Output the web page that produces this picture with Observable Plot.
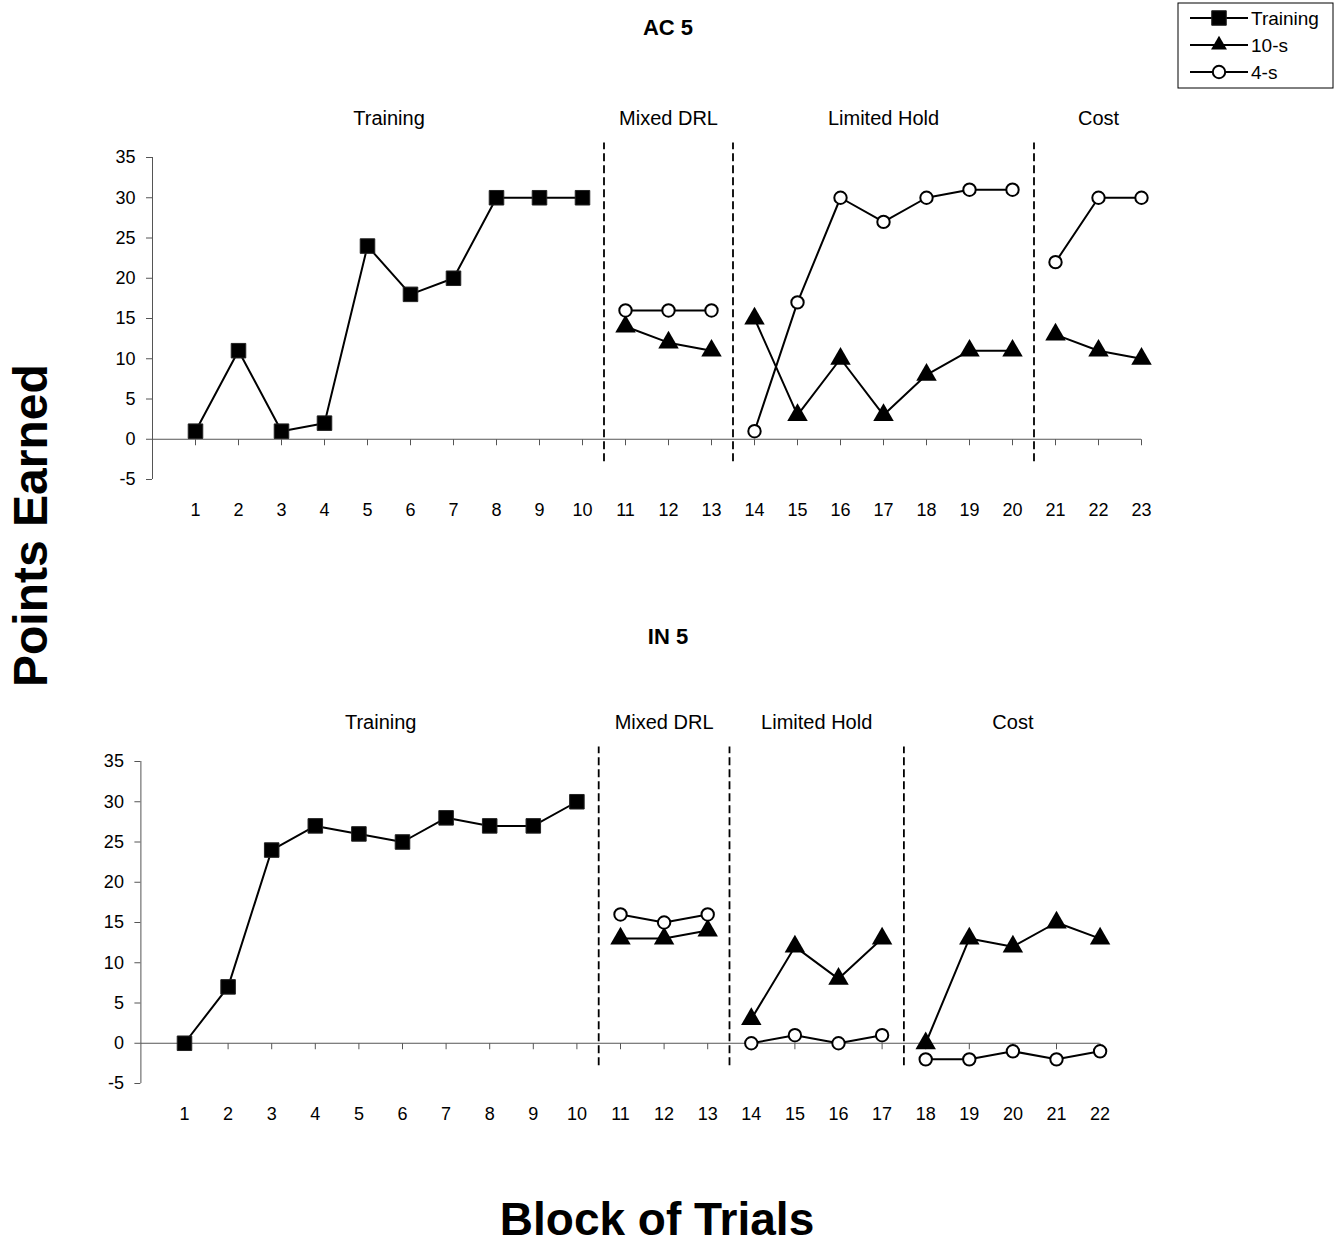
<!DOCTYPE html>
<html>
<head>
<meta charset="utf-8">
<script src="https://cdn.jsdelivr.net/npm/d3@7"></script>
<script src="https://cdn.jsdelivr.net/npm/@observablehq/plot@0.6"></script>
<style>
  body { margin: 0; background: #fff; font-family: "Liberation Sans", Arial, sans-serif; }
  #page { position: relative; width: 1343px; height: 1260px; background: #fff; }
  #page > svg { position: absolute; }
</style>
</head>
<body>
<div id="page"></div>
<script>
// ---- Data ---------------------------------------------------------------
const seriesNames = ["Training", "10-s", "4-s"];
const phaseNames = ["Training", "Mixed DRL", "Limited Hold", "Cost"];

// AC 5: last block of each phase
const acPhaseEnds = [10, 13, 20, 23];
const acTrainingBlocks = [1, 2, 3, 4, 5, 6, 7, 8, 9, 10];
const acTraining = [1, 11, 1, 2, 24, 18, 20, 30, 30, 30];
const acTestBlocks = [11, 12, 13, 14, 15, 16, 17, 18, 19, 20, 21, 22, 23];
const ac10s = [14, 12, 11, 15, 3, 10, 3, 8, 11, 11, 13, 11, 10];
const ac4s = [16, 16, 16, 1, 17, 30, 27, 30, 31, 31, 22, 30, 30];

// IN 5
const inPhaseEnds = [10, 13, 17, 22];
const inTrainingBlocks = [1, 2, 3, 4, 5, 6, 7, 8, 9, 10];
const inTraining = [0, 7, 24, 27, 26, 25, 28, 27, 27, 30];
const inTestBlocks = [11, 12, 13, 14, 15, 16, 17, 18, 19, 20, 21, 22];
const in10s = [13, 13, 14, 3, 12, 8, 13, 0, 13, 12, 15, 13];
const in4s = [16, 15, 16, 0, 1, 0, 1, -2, -2, -1, -2, -1];

const yTicks = [-5, 0, 5, 10, 15, 20, 25, 30, 35];

// ---- Helpers ------------------------------------------------------------
const FONT = "'Liberation Sans', Arial, sans-serif";
const R_SQUARE = 8.2, R_TRIANGLE = 7.6, R_CIRCLE = 6.2;

function phaseOf(block, ends) {
  return ends.findIndex(e => block <= e);
}

function rowsFor(series, blocks, values, ends) {
  return blocks.map((b, i) => ({ series, block: b, value: values[i], phase: phaseOf(b, ends) }));
}

// small downward tick drawn at each block on the zero line
const tickDown = { draw(ctx) { ctx.moveTo(0, 0); ctx.lineTo(0, 6); } };

function panel({ trainingBlocks, training, testBlocks, s10, s4, ends, marginLeft, marginRight }) {
  const nBlocks = ends[ends.length - 1];
  const blocks = d3.range(1, nBlocks + 1);
  const rowsTrain = rowsFor(seriesNames[0], trainingBlocks, training, ends);
  const rows10 = rowsFor(seriesNames[1], testBlocks, s10, ends);
  const rows4 = rowsFor(seriesNames[2], testBlocks, s4, ends);
  const all = [...rowsTrain, ...rows10, ...rows4];
  const boundaries = ends.slice(0, -1).map(e => e + 0.5);
  const starts = [1, ...ends.slice(0, -1).map(e => e + 1)];
  const phases = phaseNames.map((name, i) => ({ name, mid: (starts[i] + ends[i]) / 2 }));

  return Plot.plot({
    width: 1343,
    height: 440,
    marginTop: 57,
    marginBottom: 61,
    marginLeft,
    marginRight,
    x: { domain: [0, nBlocks], axis: null },
    y: { domain: [-5, 35], axis: null },
    style: { fontFamily: FONT, fontSize: "18px", background: "transparent", color: "black", overflow: "visible" },
    marks: [
      // value axis: line, ticks and labels
      Plot.ruleX([0], { y1: -5, y2: 35, stroke: "#555", strokeWidth: 1 }),
      Plot.axisY({ ticks: yTicks, tickSize: 6, tickPadding: 11, label: null, tickFormat: d => String(d), stroke: "#555", fill: "black", fontSize: 18 }),
      // category axis sits on the zero line
      Plot.ruleY([0], { x1: 0, x2: nBlocks, stroke: "#555", strokeWidth: 1 }),
      Plot.dot(blocks, { x: d => d, y: 0, symbol: tickDown, r: 3, stroke: "#555", fill: "none", strokeWidth: 1 }),
      Plot.axisX({ ticks: blocks, tickSize: 0, tickPadding: 24, label: null, tickFormat: d => String(d), fill: "black", fontSize: 18 }),
      // phase separators and names
      Plot.ruleX(boundaries, { y1: -2.8, y2: 36.8, stroke: "black", strokeWidth: 1.8, strokeDasharray: "8,4" }),
      Plot.text(phases, { x: "mid", text: "name", frameAnchor: "top", lineAnchor: "middle", dy: -39, fontSize: 20, fill: "black" }),
      // series
      Plot.line(all, { x: "block", y: "value", z: d => d.series + "|" + d.phase, stroke: "black", strokeWidth: 2 }),
      Plot.dot(rowsTrain, { x: "block", y: "value", symbol: "square", r: R_SQUARE, fill: "black", stroke: "#222", strokeWidth: 1 }),
      Plot.dot(rows10, { x: "block", y: "value", symbol: "triangle", r: R_TRIANGLE, fill: "black", stroke: "none" }),
      Plot.dot(rows4, { x: "block", y: "value", symbol: "circle", r: R_CIRCLE, fill: "white", stroke: "black", strokeWidth: 2 })
    ]
  });
}

const page = document.getElementById("page");

const acChart = panel({
  trainingBlocks: acTrainingBlocks, training: acTraining,
  testBlocks: acTestBlocks, s10: ac10s, s4: ac4s, ends: acPhaseEnds,
  marginLeft: 152, marginRight: 1343 - 1141
});
acChart.style.left = "0px";
acChart.style.top = "100px";
page.appendChild(acChart);

const inChart = panel({
  trainingBlocks: inTrainingBlocks, training: inTraining,
  testBlocks: inTestBlocks, s10: in10s, s4: in4s, ends: inPhaseEnds,
  marginLeft: 140.4, marginRight: 1343 - 1099.6
});
inChart.style.left = "0px";
inChart.style.top = "704px";
page.appendChild(inChart);

// ---- Titles, axis titles and legend ---------------------------------
const overlay = d3.create("svg")
  .attr("width", 1343).attr("height", 1260)
  .style("left", "0px").style("top", "0px")
  .attr("font-family", FONT);

overlay.append("text").attr("x", 668).attr("y", 35).attr("text-anchor", "middle")
  .attr("font-size", 22).attr("font-weight", "bold").text("AC 5");
overlay.append("text").attr("x", 668).attr("y", 644).attr("text-anchor", "middle")
  .attr("font-size", 22).attr("font-weight", "bold").text("IN 5");
overlay.append("text").attr("transform", "translate(47,687) rotate(-90)")
  .attr("font-size", 48).attr("font-weight", "bold").text("Points Earned");
overlay.append("text").attr("x", 657).attr("y", 1235).attr("text-anchor", "middle")
  .attr("font-size", 46).attr("font-weight", "bold").text("Block of Trials");

const legend = overlay.append("g").attr("transform", "translate(1178,3)");
legend.append("rect").attr("width", 155).attr("height", 85)
  .attr("fill", "white").attr("stroke", "black").attr("stroke-width", 1);
const legendSymbols = [
  { shape: d3.symbolSquare, size: R_SQUARE * R_SQUARE * Math.PI, fill: "black", stroke: "#222", sw: 1 },
  { shape: d3.symbolTriangle2, size: R_TRIANGLE * R_TRIANGLE * Math.PI, fill: "black", stroke: "none", sw: 0 },
  { shape: d3.symbolCircle, size: R_CIRCLE * R_CIRCLE * Math.PI, fill: "white", stroke: "black", sw: 2 }
];
seriesNames.forEach((name, i) => {
  const g = legend.append("g").attr("transform", `translate(0,${15 + i * 27})`);
  g.append("line").attr("x1", 12).attr("x2", 70).attr("stroke", "black").attr("stroke-width", 2);
  const s = legendSymbols[i];
  g.append("path").attr("transform", "translate(41,0)")
    .attr("d", d3.symbol(s.shape, s.size)())
    .attr("fill", s.fill).attr("stroke", s.stroke).attr("stroke-width", s.sw);
  g.append("text").attr("x", 73).attr("y", 7).attr("font-size", 19).text(name);
});

page.appendChild(overlay.node());
</script>
</body>
</html>
